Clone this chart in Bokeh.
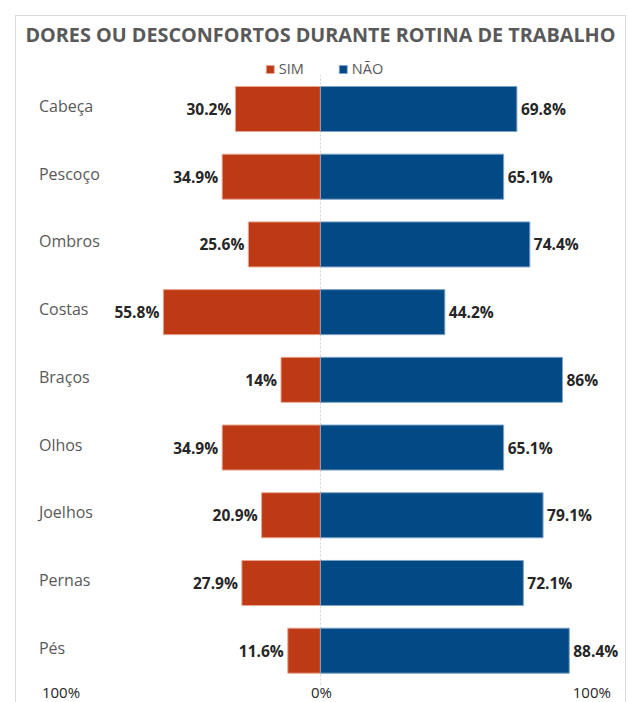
from bokeh.plotting import figure
from bokeh.models import ColumnDataSource, Range1d, Legend, LegendItem
from bokeh.core.properties import value
from bokeh.embed import file_html
from bokeh.resources import INLINE

title_text = "DORES OU DESCONFORTOS DURANTE ROTINA DE TRABALHO"
categories = ["Cabeça", "Pescoço", "Ombros", "Costas", "Braços", "Olhos", "Joelhos", "Pernas", "Pés"]
sim = [30.2, 34.9, 25.6, 55.8, 14, 34.9, 20.9, 27.9, 11.6]
nao = [69.8, 65.1, 74.4, 44.2, 86, 65.1, 79.1, 72.1, 88.4]
series_names = ["SIM", "NÃO"]
tick_values = [-100, 0, 100]
tick_labels = ["100%", "0%", "100%"]

FONT = "Open Sans"
SIM_COLOR = "#BE3A15"
NAO_COLOR = "#024A86"

n = len(categories)
rows = [n - i for i in range(n)]  # first category at the top
Y_START = 0.22
Y_END = n + 1.366

src = ColumnDataSource(dict(
    row=rows,
    cat=categories,
    sim_left=[-v for v in sim],
    zero=[0] * n,
    nao=nao,
    sim_lbl=[f"{v:g}%" for v in sim],
    nao_lbl=[f"{v:g}%" for v in nao],
    xmin=[tick_values[0]] * n,
))

tick_src = ColumnDataSource(dict(
    x=tick_values,
    y=[Y_START] * len(tick_values),
    label=tick_labels,
    align=["left", "center", "right"],
    dx=[3, 1, 9],
))

p = figure(
    title=None,
    width=611, height=687,
    y_range=Range1d(Y_START, Y_END),
    x_range=Range1d(-106.2, 109.1),
    output_backend="svg", toolbar_location=None,
    min_border_left=5, min_border_right=0, min_border_top=0, min_border_bottom=0,
)
p.margin = (15, 3, 0, 15)
p.styles = {"border-top": "1px solid #D9D9D9", "border-left": "1px solid #D9D9D9",
            "border-right": "1px solid #D9D9D9", "box-sizing": "border-box"}

# chart title, centred over the 0% line at the top of the chart area
p.text(x=[tick_values[1]], y=[Y_END], text=[title_text], y_offset=18,
       text_align="center", text_baseline="middle", text_font=value(FONT),
       text_font_size="19.8px", text_font_style="bold", text_color="#595959")

p.segment(x0=0, y0=min(rows) - 0.5, x1=0, y1=max(rows) + 0.5,
          line_color="#D0D0D0", line_dash="2 2", line_width=1, level="underlay")

r_sim = p.hbar(y="row", left="sim_left", right="zero", height=0.665, source=src,
               fill_color=SIM_COLOR, line_color="#E8A58F", line_width=1)
r_nao = p.hbar(y="row", left="zero", right="nao", height=0.665, source=src,
               fill_color=NAO_COLOR, line_color="#7FA3C6", line_width=1)

p.text(x="sim_left", y="row", text="sim_lbl", source=src, x_offset=-4,
       text_align="right", text_baseline="middle", text_font=value(FONT),
       text_font_size="15.5px", text_font_style="bold", text_color="#262626")
p.text(x="nao", y="row", text="nao_lbl", source=src, x_offset=4,
       text_align="left", text_baseline="middle", text_font=value(FONT),
       text_font_size="15.5px", text_font_style="bold", text_color="#262626")
p.text(x="xmin", y="row", text="cat", source=src, y_offset=-3,
       text_align="left", text_baseline="middle", text_font=value(FONT),
       text_font_size="16px", text_color="#595959")

# bottom scale labels
p.text(x="x", y="y", text="label", source=tick_src, x_offset="dx", y_offset=-2,
       text_align="align", text_baseline="bottom", text_font=value(FONT),
       text_font_size="15px", text_color="#262626")

legend = Legend(items=[LegendItem(label=series_names[0], renderers=[r_sim]),
                       LegendItem(label=series_names[1], renderers=[r_nao])],
                orientation="horizontal", location="top_center",
                label_text_font=FONT, label_text_font_size="14.5px", label_text_color="#595959",
                glyph_width=10, glyph_height=10, label_standoff=4, spacing=34,
                padding=0, margin=43, border_line_color=None, background_fill_alpha=0)
p.add_layout(legend)

p.xaxis.visible = False
p.yaxis.visible = False
p.xgrid.visible = False
p.ygrid.visible = False
p.outline_line_color = None

open("out.html", "w").write(file_html(p, INLINE))
